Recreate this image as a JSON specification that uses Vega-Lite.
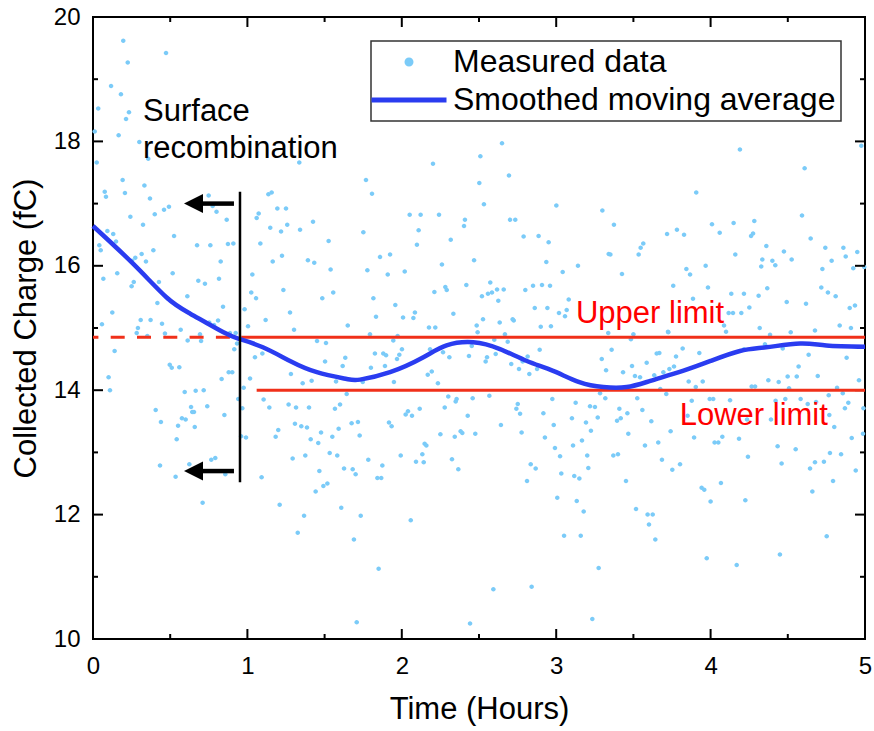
{
"$schema": "https://vega.github.io/schema/vega-lite/v6.json",
"width": 772,
"height": 622,
"padding": {"left": 10, "top": 5, "right": 5, "bottom": 5},
"background": "white",
"config": {
  "view": {"stroke": "black", "strokeWidth": 2},
  "font": "Liberation Sans",
  "axis": {"grid": false, "domain": false, "ticks": false, "labelColor": "black", "titleColor": "black", "titleFontWeight": "normal", "labelFontSize": 24, "titleFontSize": 31, "labelFlush": false, "labelOverlap": false},
  "legend": {"orient": "none", "legendX": 278, "legendY": 24, "padding": 5, "rowPadding": 6, "symbolSize": 400, "symbolOffset": 17, "labelOffset": 28, "labelFontSize": 32, "labelColor": "black", "labelLimit": 600, "strokeColor": "#333333", "strokeWidth": 1.5, "fillColor": "white", "symbolStrokeWidth": 0}
},
"datasets": {
  "pts": [
{"t":0.196,"q":19.62},{"t":0.473,"q":19.42},{"t":0.225,"q":19.27},{"t":0.117,"q":18.89},{"t":0.181,"q":18.76},{"t":0.034,"q":18.53},{"t":0.233,"q":18.47},{"t":0.214,"q":18.36},{"t":0.011,"q":18.16},{"t":0.166,"q":18.10},{"t":0.024,"q":17.66},{"t":0.30,"q":17.99},{"t":0.358,"q":17.72},{"t":1.336,"q":17.66},{"t":0.192,"q":17.38},{"t":0.333,"q":17.29},{"t":0.076,"q":17.19},{"t":0.084,"q":17.11},{"t":0.207,"q":17.17},{"t":0.369,"q":17.08},{"t":0.749,"q":17.13},{"t":0.775,"q":16.96},{"t":0.492,"q":16.95},{"t":0.46,"q":16.90},{"t":0.40,"q":16.83},{"t":0.80,"q":16.87},{"t":0.242,"q":16.79},{"t":0.866,"q":16.74},{"t":0.324,"q":16.66},{"t":1.136,"q":17.15},{"t":1.157,"q":17.18},{"t":1.073,"q":16.84},{"t":1.06,"q":16.77},{"t":1.194,"q":16.92},{"t":1.25,"q":16.92},{"t":1.148,"q":16.61},{"t":1.218,"q":16.55},{"t":1.258,"q":16.66},{"t":1.341,"q":16.58},{"t":1.425,"q":16.71},{"t":0.093,"q":16.56},{"t":0.131,"q":16.51},{"t":0.149,"q":16.39},{"t":0.041,"q":16.33},{"t":0.05,"q":16.25},{"t":0.525,"q":16.48},{"t":0.391,"q":16.25},{"t":0.674,"q":16.33},{"t":0.76,"q":16.33},{"t":0.874,"q":16.35},{"t":0.909,"q":16.36},{"t":1.084,"q":16.36},{"t":1.526,"q":16.40},{"t":0.315,"q":16.19},{"t":0.274,"q":16.13},{"t":0.343,"q":16.07},{"t":0.253,"q":16.08},{"t":0.827,"q":16.07},{"t":1.164,"q":16.07},{"t":1.224,"q":16.16},{"t":1.392,"q":16.09},{"t":1.433,"q":16.05},{"t":0.516,"q":15.88},{"t":0.157,"q":15.88},{"t":0.067,"q":15.79},{"t":0.264,"q":15.74},{"t":0.25,"q":15.67},{"t":0.427,"q":15.74},{"t":0.682,"q":15.76},{"t":0.725,"q":15.71},{"t":0.816,"q":15.79},{"t":1.032,"q":15.86},{"t":1.539,"q":15.94},{"t":1.556,"q":15.57},{"t":1.233,"q":15.61},{"t":1.025,"q":15.57},{"t":1.056,"q":15.48},{"t":1.485,"q":15.48},{"t":0.611,"q":15.51},{"t":0.486,"q":15.47},{"t":0.417,"q":15.40},{"t":0.842,"q":15.34},{"t":0.982,"q":15.30},{"t":0.125,"q":15.25},{"t":1.276,"q":15.25},{"t":0.309,"q":15.13},{"t":0.373,"q":15.13},{"t":0.447,"q":15.07},{"t":0.81,"q":15.12},{"t":0.058,"q":15.06},{"t":0.291,"q":15.00},{"t":0.568,"q":14.97},{"t":0.753,"q":15.09},{"t":1.004,"q":15.03},{"t":1.118,"q":15.13},{"t":1.302,"q":14.97},{"t":1.65,"q":15.04},
{"t":0.283,"q":14.92},{"t":0.352,"q":14.87},{"t":0.466,"q":14.91},{"t":0.613,"q":14.80},{"t":0.693,"q":14.90},{"t":0.70,"q":14.79},{"t":0.736,"q":15.08},{"t":0.784,"q":15.05},{"t":0.887,"q":14.92},{"t":0.924,"q":14.92},{"t":0.933,"q":14.75},{"t":0.915,"q":14.66},{"t":0.14,"q":14.63},{"t":0.497,"q":14.41},{"t":0.51,"q":14.36},{"t":0.559,"q":14.37},{"t":0.101,"q":14.21},{"t":0.11,"q":14.00},{"t":0.594,"q":13.97},{"t":0.665,"q":13.99},{"t":0.717,"q":14.00},{"t":0.833,"q":14.18},{"t":0.879,"q":14.29},{"t":0.902,"q":14.29},{"t":0.941,"q":13.86},{"t":0.976,"q":14.04},{"t":1.017,"q":14.19},{"t":1.049,"q":14.53},{"t":1.097,"q":14.59},{"t":1.451,"q":14.79},{"t":1.509,"q":14.76},{"t":1.503,"q":14.46},{"t":1.617,"q":14.39},{"t":1.634,"q":14.52},{"t":1.282,"q":14.26},{"t":1.358,"q":14.11},{"t":1.416,"q":14.15},{"t":1.574,"q":14.14},{"t":1.643,"q":13.94},{"t":0.406,"q":13.68},{"t":0.44,"q":13.49},{"t":0.576,"q":13.55},{"t":0.60,"q":13.53},{"t":0.635,"q":13.73},{"t":0.643,"q":13.65},{"t":0.654,"q":13.65},{"t":0.551,"q":13.43},{"t":0.659,"q":13.41},{"t":0.74,"q":13.74},{"t":0.851,"q":13.60},{"t":0.542,"q":13.21},{"t":0.967,"q":13.71},{"t":0.959,"q":13.26},{"t":0.991,"q":13.24},{"t":1.105,"q":13.85},{"t":1.142,"q":13.72},{"t":1.267,"q":13.77},{"t":1.315,"q":13.72},{"t":1.399,"q":13.72},{"t":1.567,"q":13.70},{"t":1.60,"q":13.77},{"t":1.20,"q":13.36},{"t":1.183,"q":13.25},{"t":1.308,"q":13.46},{"t":1.349,"q":13.42},{"t":1.386,"q":13.40},{"t":1.477,"q":13.32},{"t":1.41,"q":13.21},{"t":1.459,"q":13.15},{"t":1.55,"q":13.25},{"t":1.591,"q":13.38},{"t":0.766,"q":12.88},{"t":0.792,"q":12.91},{"t":0.624,"q":12.81},{"t":0.434,"q":12.79},{"t":0.535,"q":12.61},{"t":0.857,"q":12.65},{"t":1.293,"q":12.90},{"t":1.375,"q":12.95},{"t":1.533,"q":12.99},{"t":1.582,"q":12.95},{"t":1.626,"q":12.74},{"t":1.092,"q":12.60},{"t":1.466,"q":12.70},{"t":1.492,"q":12.46},{"t":1.518,"q":12.50},{"t":1.442,"q":12.37},{"t":0.71,"q":12.19},{"t":1.209,"q":12.16},{"t":1.608,"q":12.11},{"t":1.367,"q":11.98},{"t":1.326,"q":11.71},
{"t":2.649,"q":17.97},{"t":2.509,"q":17.76},{"t":2.202,"q":17.64},{"t":1.768,"q":17.38},{"t":2.694,"q":17.45},{"t":1.807,"q":17.16},{"t":2.502,"q":17.33},{"t":2.532,"q":16.99},{"t":3.001,"q":16.97},{"t":3.299,"q":16.89},{"t":2.051,"q":16.82},{"t":2.122,"q":16.82},{"t":2.241,"q":16.82},{"t":2.409,"q":16.74},{"t":2.403,"q":16.64},{"t":2.701,"q":16.74},{"t":2.735,"q":16.74},{"t":2.109,"q":16.57},{"t":1.751,"q":16.54},{"t":2.317,"q":16.42},{"t":2.789,"q":16.47},{"t":2.886,"q":16.48},{"t":2.951,"q":16.38},{"t":2.098,"q":16.34},{"t":1.859,"q":16.14},{"t":1.924,"q":16.18},{"t":2.468,"q":16.09},{"t":2.26,"q":16.02},{"t":2.936,"q":16.06},{"t":3.141,"q":16.00},{"t":3.34,"q":16.19},{"t":1.777,"q":15.93},{"t":1.909,"q":15.86},{"t":2.019,"q":15.91},{"t":3.042,"q":15.90},{"t":2.211,"q":15.58},{"t":2.282,"q":15.66},{"t":2.291,"q":15.61},{"t":2.418,"q":15.69},{"t":2.573,"q":15.73},{"t":2.519,"q":15.51},{"t":2.558,"q":15.55},{"t":2.584,"q":15.57},{"t":2.617,"q":15.62},{"t":2.66,"q":15.62},{"t":2.625,"q":15.44},{"t":2.80,"q":15.61},{"t":2.85,"q":15.68},{"t":2.908,"q":15.69},{"t":2.96,"q":15.68},{"t":1.816,"q":15.48},{"t":1.958,"q":15.37},{"t":1.833,"q":15.18},{"t":2.008,"q":15.17},{"t":2.075,"q":15.16},{"t":2.085,"q":15.25},{"t":2.334,"q":15.23},{"t":2.861,"q":15.32},{"t":2.943,"q":15.32},{"t":3.081,"q":15.46},{"t":3.068,"q":15.29},{"t":3.018,"q":15.24},{"t":3.057,"q":15.19},{"t":2.526,"q":15.14},{"t":2.718,"q":15.14},{"t":2.725,"q":15.12},{"t":2.176,"q":15.01},{"t":2.217,"q":15.01},{"t":2.485,"q":15.04},{"t":2.634,"q":15.09},{"t":2.90,"q":15.02},{"t":2.966,"q":15.03},
{"t":2.491,"q":14.93},{"t":1.794,"q":14.90},{"t":1.945,"q":14.80},{"t":1.973,"q":14.87},{"t":2.001,"q":14.66},{"t":1.826,"q":14.59},{"t":1.88,"q":14.59},{"t":1.898,"q":14.56},{"t":1.984,"q":14.57},{"t":1.969,"q":14.50},{"t":1.80,"q":14.36},{"t":1.891,"q":14.39},{"t":2.183,"q":14.66},{"t":2.267,"q":14.61},{"t":2.308,"q":14.53},{"t":2.435,"q":14.55},{"t":2.453,"q":14.71},{"t":2.599,"q":14.81},{"t":2.668,"q":14.90},{"t":2.686,"q":14.78},{"t":2.608,"q":14.58},{"t":2.552,"q":14.53},{"t":2.543,"q":14.46},{"t":2.709,"q":14.42},{"t":2.759,"q":14.34},{"t":2.783,"q":14.46},{"t":2.815,"q":14.54},{"t":2.826,"q":14.26},{"t":2.876,"q":14.34},{"t":2.893,"q":14.65},{"t":2.168,"q":14.25},{"t":2.194,"q":14.30},{"t":2.234,"q":14.11},{"t":1.949,"q":14.13},{"t":1.747,"q":14.13},{"t":2.301,"q":13.90},{"t":2.355,"q":13.86},{"t":2.349,"q":13.82},{"t":2.459,"q":13.87},{"t":2.567,"q":13.91},{"t":2.751,"q":13.78},{"t":2.742,"q":13.70},{"t":2.766,"q":13.62},{"t":2.975,"q":13.86},{"t":3.126,"q":13.80},{"t":3.219,"q":13.74},{"t":3.251,"q":13.73},{"t":3.284,"q":13.95},{"t":3.318,"q":13.87},{"t":2.278,"q":13.72},{"t":2.116,"q":13.70},{"t":2.04,"q":13.66},{"t":2.025,"q":13.61},{"t":2.066,"q":13.59},{"t":2.427,"q":13.59},{"t":2.917,"q":13.63},{"t":1.675,"q":13.47},{"t":1.716,"q":13.49},{"t":1.727,"q":13.27},{"t":1.917,"q":13.48},{"t":1.934,"q":13.42},{"t":2.25,"q":13.29},{"t":2.343,"q":13.25},{"t":2.381,"q":13.34},{"t":2.392,"q":13.31},{"t":2.476,"q":13.30},{"t":2.642,"q":13.44},{"t":2.776,"q":13.32},{"t":2.927,"q":13.24},{"t":2.984,"q":13.44},{"t":3.102,"q":13.55},{"t":3.193,"q":13.48},{"t":3.269,"q":13.56},{"t":3.225,"q":13.35},{"t":3.167,"q":13.19},{"t":3.109,"q":13.11},{"t":2.992,"q":13.07},{"t":2.148,"q":13.14},{"t":2.159,"q":13.11},{"t":1.993,"q":12.95},{"t":2.133,"q":12.97},{"t":2.092,"q":12.85},{"t":2.142,"q":12.84},{"t":2.325,"q":12.89},{"t":2.366,"q":12.73},{"t":1.783,"q":12.88},{"t":1.874,"q":12.79},{"t":1.682,"q":12.73},{"t":1.701,"q":12.65},{"t":1.842,"q":12.59},{"t":1.867,"q":12.59},{"t":2.835,"q":12.81},{"t":2.867,"q":12.74},{"t":3.025,"q":12.94},{"t":3.033,"q":12.66},{"t":3.201,"q":12.95},{"t":3.208,"q":12.75},{"t":3.117,"q":12.62},{"t":3.15,"q":12.58},{"t":2.811,"q":12.54},{"t":1.734,"q":11.98},{"t":2.058,"q":11.91},{"t":3.007,"q":12.27},{"t":3.133,"q":12.22},{"t":3.178,"q":12.05},{"t":1.69,"q":11.60},{"t":3.051,"q":11.66},{"t":3.159,"q":11.66},{"t":1.85,"q":11.13},{"t":3.275,"q":11.14},{"t":2.593,"q":10.80},{"t":2.841,"q":10.84},{"t":1.708,"q":10.27},{"t":2.442,"q":10.25},{"t":3.234,"q":10.32},
{"t":4.19,"q":17.87},{"t":4.976,"q":17.93},{"t":4.609,"q":17.57},{"t":3.907,"q":17.18},{"t":3.374,"q":16.66},{"t":4.592,"q":16.81},{"t":4.009,"q":16.67},{"t":4.149,"q":16.69},{"t":4.283,"q":16.72},{"t":3.782,"q":16.58},{"t":3.718,"q":16.51},{"t":3.828,"q":16.50},{"t":4.059,"q":16.53},{"t":4.262,"q":16.48},{"t":4.275,"q":16.52},{"t":4.648,"q":16.44},{"t":3.564,"q":16.36},{"t":3.547,"q":16.29},{"t":3.534,"q":16.18},{"t":3.351,"q":16.18},{"t":4.16,"q":16.18},{"t":4.361,"q":16.32},{"t":4.475,"q":16.23},{"t":4.335,"q":16.10},{"t":4.40,"q":16.08},{"t":4.419,"q":16.01},{"t":4.328,"q":15.99},{"t":4.525,"q":16.10},{"t":4.743,"q":16.29},{"t":4.784,"q":16.08},{"t":4.86,"q":16.29},{"t":4.875,"q":16.15},{"t":4.95,"q":16.22},{"t":4.924,"q":15.96},{"t":4.724,"q":15.95},{"t":3.426,"q":15.87},{"t":3.843,"q":15.95},{"t":3.867,"q":15.86},{"t":3.968,"q":16.00},{"t":3.758,"q":15.68},{"t":3.983,"q":15.65},{"t":4.367,"q":15.64},{"t":4.717,"q":15.65},{"t":4.76,"q":15.57},{"t":4.81,"q":15.51},{"t":3.886,"q":15.47},{"t":4.134,"q":15.55},{"t":4.216,"q":15.55},{"t":4.311,"q":15.52},{"t":4.493,"q":15.42},{"t":4.618,"q":15.39},{"t":4.901,"q":15.32},{"t":4.935,"q":15.36},{"t":4.117,"q":15.24},{"t":4.145,"q":15.24},{"t":4.199,"q":15.24},{"t":4.251,"q":15.33},{"t":4.087,"q":15.04},{"t":4.10,"q":14.94},{"t":4.318,"q":15.0},{"t":4.519,"q":14.93},{"t":4.676,"q":14.96},{"t":4.836,"q":15.04},{"t":4.909,"q":15.0},{"t":3.724,"q":14.94},{"t":4.995,"q":15.98},
{"t":3.337,"q":14.92},{"t":3.484,"q":14.82},{"t":3.50,"q":14.90},{"t":3.726,"q":14.93},{"t":4.385,"q":14.89},{"t":3.359,"q":14.65},{"t":3.295,"q":14.50},{"t":3.323,"q":14.32},{"t":3.491,"q":14.39},{"t":3.433,"q":14.29},{"t":3.51,"q":14.23},{"t":3.543,"q":14.21},{"t":3.586,"q":14.44},{"t":3.651,"q":14.59},{"t":3.668,"q":14.60},{"t":3.635,"q":14.24},{"t":3.694,"q":14.29},{"t":3.733,"q":14.34},{"t":3.776,"q":14.54},{"t":3.763,"q":14.38},{"t":3.819,"q":14.67},{"t":3.927,"q":14.60},{"t":3.858,"q":14.14},{"t":3.949,"q":14.14},{"t":3.904,"q":14.05},{"t":3.674,"q":14.02},{"t":3.713,"q":13.94},{"t":3.525,"q":13.87},{"t":4.216,"q":14.66},{"t":4.352,"q":14.74},{"t":4.467,"q":14.67},{"t":4.57,"q":14.38},{"t":4.499,"q":14.22},{"t":4.558,"q":14.22},{"t":4.635,"q":14.57},{"t":4.694,"q":14.23},{"t":4.374,"q":14.16},{"t":4.441,"q":14.13},{"t":4.266,"q":14.06},{"t":4.288,"q":14.06},{"t":4.508,"q":14.03},{"t":4.881,"q":14.52},{"t":4.961,"q":14.16},{"t":4.819,"q":14.04},{"t":4.765,"q":13.92},{"t":4.856,"q":13.95},{"t":4.126,"q":13.84},{"t":3.994,"q":13.86},{"t":4.017,"q":13.86},{"t":3.878,"q":13.83},{"t":3.409,"q":13.70},{"t":3.461,"q":13.63},{"t":3.558,"q":13.68},{"t":3.418,"q":13.55},{"t":3.394,"q":13.51},{"t":3.616,"q":13.50},{"t":3.851,"q":13.59},{"t":4.236,"q":13.53},{"t":4.391,"q":13.53},{"t":4.421,"q":13.83},{"t":4.484,"q":13.86},{"t":4.583,"q":13.86},{"t":4.629,"q":13.78},{"t":4.683,"q":13.81},{"t":4.769,"q":13.60},{"t":4.801,"q":13.41},{"t":4.87,"q":13.71},{"t":4.892,"q":13.80},{"t":4.99,"q":13.71},{"t":4.987,"q":13.30},{"t":4.914,"q":13.23},{"t":3.467,"q":13.30},{"t":3.575,"q":13.11},{"t":3.661,"q":13.16},{"t":3.741,"q":13.34},{"t":3.893,"q":13.24},{"t":4.026,"q":13.16},{"t":4.05,"q":13.16},{"t":4.076,"q":13.25},{"t":4.184,"q":13.22},{"t":4.434,"q":13.10},{"t":4.551,"q":13.05},{"t":3.37,"q":12.95},{"t":3.40,"q":12.97},{"t":3.685,"q":12.88},{"t":3.802,"q":12.81},{"t":3.752,"q":12.72},{"t":4.242,"q":12.93},{"t":4.46,"q":12.82},{"t":4.644,"q":12.74},{"t":4.676,"q":12.84},{"t":4.734,"q":12.85},{"t":4.773,"q":12.99},{"t":4.845,"q":12.97},{"t":4.94,"q":12.71},{"t":4.793,"q":12.54},{"t":4.659,"q":12.37},{"t":3.452,"q":12.54},{"t":4.067,"q":12.51},{"t":3.942,"q":12.43},{"t":3.959,"q":12.40},{"t":4.0,"q":12.21},{"t":4.225,"q":12.23},{"t":3.517,"q":12.09},{"t":3.592,"q":12.0},{"t":3.625,"q":12.0},{"t":3.601,"q":11.84},{"t":3.642,"q":11.60},{"t":4.752,"q":11.65},{"t":3.975,"q":11.30},{"t":4.449,"q":11.36},{"t":4.169,"q":11.19}
  ],
  "smooth": [
{"t":0,"q":16.64},{"t":0.261,"q":16.03},{"t":0.477,"q":15.49},{"t":0.63,"q":15.23},{"t":0.845,"q":14.93},{"t":0.952,"q":14.82},{"t":1.10,"q":14.69},{"t":1.276,"q":14.47},{"t":1.45,"q":14.29},{"t":1.643,"q":14.18},{"t":1.73,"q":14.17},{"t":1.924,"q":14.29},{"t":2.14,"q":14.53},{"t":2.29,"q":14.72},{"t":2.463,"q":14.77},{"t":2.636,"q":14.66},{"t":2.81,"q":14.47},{"t":2.98,"q":14.31},{"t":3.15,"q":14.13},{"t":3.305,"q":14.05},{"t":3.457,"q":14.05},{"t":3.61,"q":14.15},{"t":3.82,"q":14.31},{"t":4.0,"q":14.47},{"t":4.19,"q":14.63},{"t":4.36,"q":14.69},{"t":4.58,"q":14.75},{"t":4.75,"q":14.72},{"t":5.0,"q":14.70}
  ],
  "dashed": [{"t":0,"t2":0.96,"q":14.85}],
  "limits": [{"t":0.96,"t2":5,"q":14.85},{"t":1.06,"t2":5,"q":14.0}],
  "vline": [{"t":0.952,"q":17.19,"q2":12.52}],
  "shafts": [{"t":0.712,"t2":0.913,"q":17.0},{"t":0.712,"t2":0.913,"q":12.7}],
  "heads": [{"t":0.651,"q":17.0},{"t":0.651,"q":12.7}],
  "notes": [{"t":0.324,"q":18.33,"label":"Surface"},{"t":0.324,"q":17.73,"label":"recombination"}],
  "rednotes": [{"t":3.128,"q":15.08,"label":"Upper limit"},{"t":3.80,"q":13.44,"label":"Lower limit"}],
  "xmajor": [{"v":0,"edge":10},{"v":1,"edge":10},{"v":2,"edge":10},{"v":3,"edge":10},{"v":4,"edge":10},{"v":5,"edge":10},{"v":0,"edge":20},{"v":1,"edge":20},{"v":2,"edge":20},{"v":3,"edge":20},{"v":4,"edge":20},{"v":5,"edge":20}],
  "xminor": [{"v":0.5,"edge":10},{"v":1.5,"edge":10},{"v":2.5,"edge":10},{"v":3.5,"edge":10},{"v":4.5,"edge":10},{"v":0.5,"edge":20},{"v":1.5,"edge":20},{"v":2.5,"edge":20},{"v":3.5,"edge":20},{"v":4.5,"edge":20}],
  "ymajor": [{"v":10,"edge":0},{"v":12,"edge":0},{"v":14,"edge":0},{"v":16,"edge":0},{"v":18,"edge":0},{"v":20,"edge":0},{"v":10,"edge":5},{"v":12,"edge":5},{"v":14,"edge":5},{"v":16,"edge":5},{"v":18,"edge":5},{"v":20,"edge":5}],
  "yminor": [{"v":11,"edge":0},{"v":13,"edge":0},{"v":15,"edge":0},{"v":17,"edge":0},{"v":19,"edge":0},{"v":11,"edge":5},{"v":13,"edge":5},{"v":15,"edge":5},{"v":17,"edge":5},{"v":19,"edge":5}]
},
"layer": [
  {
    "data": {"name": "pts"},
    "mark": {"type": "point", "filled": true, "opacity": 1, "size": 100},
    "encoding": {
      "x": {"field": "t", "type": "quantitative", "scale": {"domain": [0, 5], "nice": false, "zero": false},
        "axis": {"orient": "bottom", "title": "Time (Hours)", "values": [0,1,2,3,4,5], "format": "d", "labelPadding": 15, "titlePadding": 16}},
      "y": {"field": "q", "type": "quantitative", "scale": {"domain": [10, 20], "nice": false, "zero": false},
        "axis": {"orient": "left", "title": "Collected Charge (fC)", "values": [10,12,14,16,18,20], "format": "d", "labelPadding": 13, "titlePadding": 11}},
      "color": {"datum": "Measured data", "scale": {"domain": ["Measured data", "Smoothed moving average"], "range": ["#7BCBF8", "#2A3CF0"]}, "legend": {"title": null}},
      "shape": {"datum": "Measured data", "scale": {"domain": ["Measured data", "Smoothed moving average"], "range": ["M-0.45,0A0.45,0.45,0,1,0,0.45,0A0.45,0.45,0,1,0,-0.45,0Z", "M-3.75,-0.25H3.75V0.25H-3.75Z"]}, "legend": {"title": null}}
    }
  },
  {
    "data": {"name": "xmajor"},
    "mark": {"type": "tick", "orient": "vertical", "size": 20, "thickness": 2, "color": "black", "opacity": 1, "clip": true},
    "encoding": {"x": {"field": "v", "type": "quantitative"}, "y": {"field": "edge", "type": "quantitative"}}
  },
  {
    "data": {"name": "xminor"},
    "mark": {"type": "tick", "orient": "vertical", "size": 10, "thickness": 2, "color": "black", "opacity": 1, "clip": true},
    "encoding": {"x": {"field": "v", "type": "quantitative"}, "y": {"field": "edge", "type": "quantitative"}}
  },
  {
    "data": {"name": "ymajor"},
    "mark": {"type": "tick", "orient": "horizontal", "size": 20, "thickness": 2, "color": "black", "opacity": 1, "clip": true},
    "encoding": {"x": {"field": "edge", "type": "quantitative"}, "y": {"field": "v", "type": "quantitative"}}
  },
  {
    "data": {"name": "yminor"},
    "mark": {"type": "tick", "orient": "horizontal", "size": 10, "thickness": 2, "color": "black", "opacity": 1, "clip": true},
    "encoding": {"x": {"field": "edge", "type": "quantitative"}, "y": {"field": "v", "type": "quantitative"}}
  },
  {
    "data": {"name": "dashed"},
    "mark": {"type": "rule", "color": "#F0301A", "strokeWidth": 3, "strokeDash": [14, 12.3], "strokeDashOffset": 8.6},
    "encoding": {"x": {"field": "t", "type": "quantitative"}, "x2": {"field": "t2"}, "y": {"field": "q", "type": "quantitative"}}
  },
  {
    "data": {"name": "limits"},
    "mark": {"type": "rule", "color": "#F0301A", "strokeWidth": 3},
    "encoding": {"x": {"field": "t", "type": "quantitative"}, "x2": {"field": "t2"}, "y": {"field": "q", "type": "quantitative"}}
  },
  {
    "data": {"name": "smooth"},
    "mark": {"type": "line", "color": "#2A3CF0", "strokeWidth": 4.5, "interpolate": "natural"},
    "encoding": {"x": {"field": "t", "type": "quantitative"}, "y": {"field": "q", "type": "quantitative"}}
  },
  {
    "data": {"name": "vline"},
    "mark": {"type": "rule", "color": "black", "strokeWidth": 2.5},
    "encoding": {"x": {"field": "t", "type": "quantitative"}, "y": {"field": "q", "type": "quantitative"}, "y2": {"field": "q2"}}
  },
  {
    "data": {"name": "shafts"},
    "mark": {"type": "rule", "color": "black", "strokeWidth": 4.5},
    "encoding": {"x": {"field": "t", "type": "quantitative"}, "x2": {"field": "t2"}, "y": {"field": "q", "type": "quantitative"}}
  },
  {
    "data": {"name": "heads"},
    "mark": {"type": "point", "shape": "M-1,0L1,-1L1,1Z", "filled": true, "color": "black", "opacity": 1, "size": 361},
    "encoding": {"x": {"field": "t", "type": "quantitative"}, "y": {"field": "q", "type": "quantitative"}}
  },
  {
    "data": {"name": "notes"},
    "mark": {"type": "text", "align": "left", "baseline": "alphabetic", "fontSize": 31, "color": "black"},
    "encoding": {"x": {"field": "t", "type": "quantitative"}, "y": {"field": "q", "type": "quantitative"}, "text": {"field": "label"}}
  },
  {
    "data": {"name": "rednotes"},
    "mark": {"type": "text", "align": "left", "baseline": "alphabetic", "fontSize": 31, "color": "#FF0000"},
    "encoding": {"x": {"field": "t", "type": "quantitative"}, "y": {"field": "q", "type": "quantitative"}, "text": {"field": "label"}}
  }
]
}
